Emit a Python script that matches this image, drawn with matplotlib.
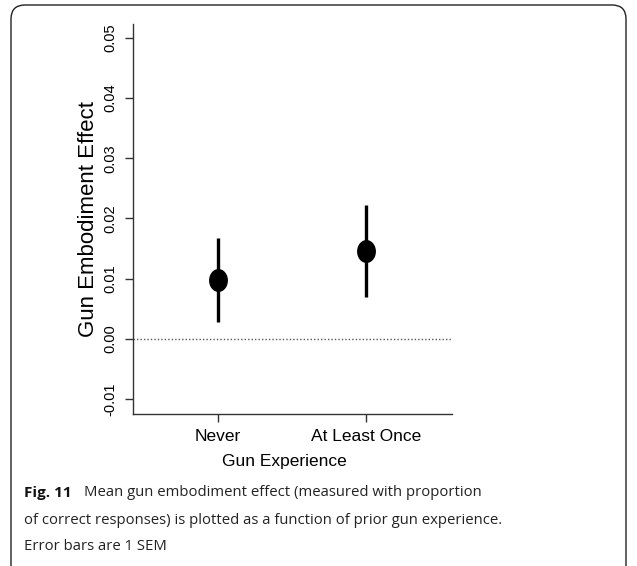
import numpy as np
import matplotlib
matplotlib.use("Agg")
import matplotlib.pyplot as plt
from matplotlib.patches import FancyBboxPatch
from matplotlib.path import Path

groups = ["Never", "At Least Once"]
means = [0.0098, 0.0146]
sems = [0.0070, 0.0077]
yticks = [-0.01, 0.00, 0.01, 0.02, 0.03, 0.04, 0.05]
ytick_labels = ["-0.01", "0.00", "0.01", "0.02", "0.03", "0.04", "0.05"]

caption_bold = "Fig. 11"
caption_lines = [
    "Mean gun embodiment effect (measured with proportion",
    "of correct responses) is plotted as a function of prior gun experience.",
    "Error bars are 1 SEM",
]

W, H = 637, 566
fig = plt.figure(figsize=(W / 100, H / 100), dpi=100)

# background axes in pixel units for the caption frame
bg = fig.add_axes([0, 0, 1, 1], zorder=-1)
bg.set_xlim(0, W)
bg.set_ylim(H, 0)
bg.axis("off")
bg.add_patch(FancyBboxPatch((11, 5), 615, 600, boxstyle="round,pad=0,rounding_size=14",
                            fc="white", ec="#222222", lw=1.0))

cap_font = "Open Sans"
cap_size = 10.7
bg.text(24, 493, caption_bold, fontsize=cap_size + 0.3, fontweight="bold", family=cap_font,
        va="center", ha="left", color="#111111")
bg.text(84, 493, caption_lines[0], fontsize=cap_size, family=cap_font,
        va="center", ha="left", color="#222222")
bg.text(24, 520, caption_lines[1], fontsize=cap_size, family=cap_font,
        va="center", ha="left", color="#222222")
bg.text(24, 547, caption_lines[2], fontsize=cap_size, family=cap_font,
        va="center", ha="left", color="#222222")

# main plot
ax = fig.add_axes([133 / W, 1 - 413.7 / H, (452 - 133) / W, (413.7 - 24) / H])
ax.patch.set_alpha(0)
x = np.arange(1, len(groups) + 1)

# slightly tall ellipse marker like the original
t = np.linspace(0, 2 * np.pi, 60)
ell = Path(np.column_stack([0.81 * np.cos(t), np.sin(t)]), closed=True)

ax.axhline(0, color="#555555", lw=1.0, ls=(0, (1, 1.5)), zorder=1)
ax.errorbar(x, means, yerr=sems, fmt="none", ecolor="black", elinewidth=2.4, capsize=0, zorder=2)
ax.plot(x, means, ls="none", marker=ell, markersize=15.5, color="black", zorder=3)

ax.set_xlim(0.428, 2.583)
ax.set_ylim(-0.01245, 0.0523)
ax.set_xticks(x)
ax.set_xticklabels(groups, fontsize=12.5, family="Liberation Sans")
ax.set_yticks(yticks)
ax.set_yticklabels(ytick_labels, fontsize=10.5, family="Liberation Sans", rotation=90, va="center")

for s in ["top", "right"]:
    ax.spines[s].set_visible(False)
for s in ["left", "bottom"]:
    ax.spines[s].set_color("#333333")
    ax.spines[s].set_linewidth(1.0)
ax.tick_params(axis="both", length=6, width=1.0, color="#333333", pad=5)

ax.set_xlabel("Gun Experience", fontsize=12.5, family="Liberation Sans")
ax.set_ylabel("Gun Embodiment Effect", fontsize=16, family="Liberation Sans")
ax.xaxis.set_label_coords(0.4755, -0.123)
ax.yaxis.set_label_coords(-0.138, 0.5)
ax.xaxis.label.set_va("center")
ax.yaxis.label.set_va("center")

fig.savefig("out.png", dpi=100)
